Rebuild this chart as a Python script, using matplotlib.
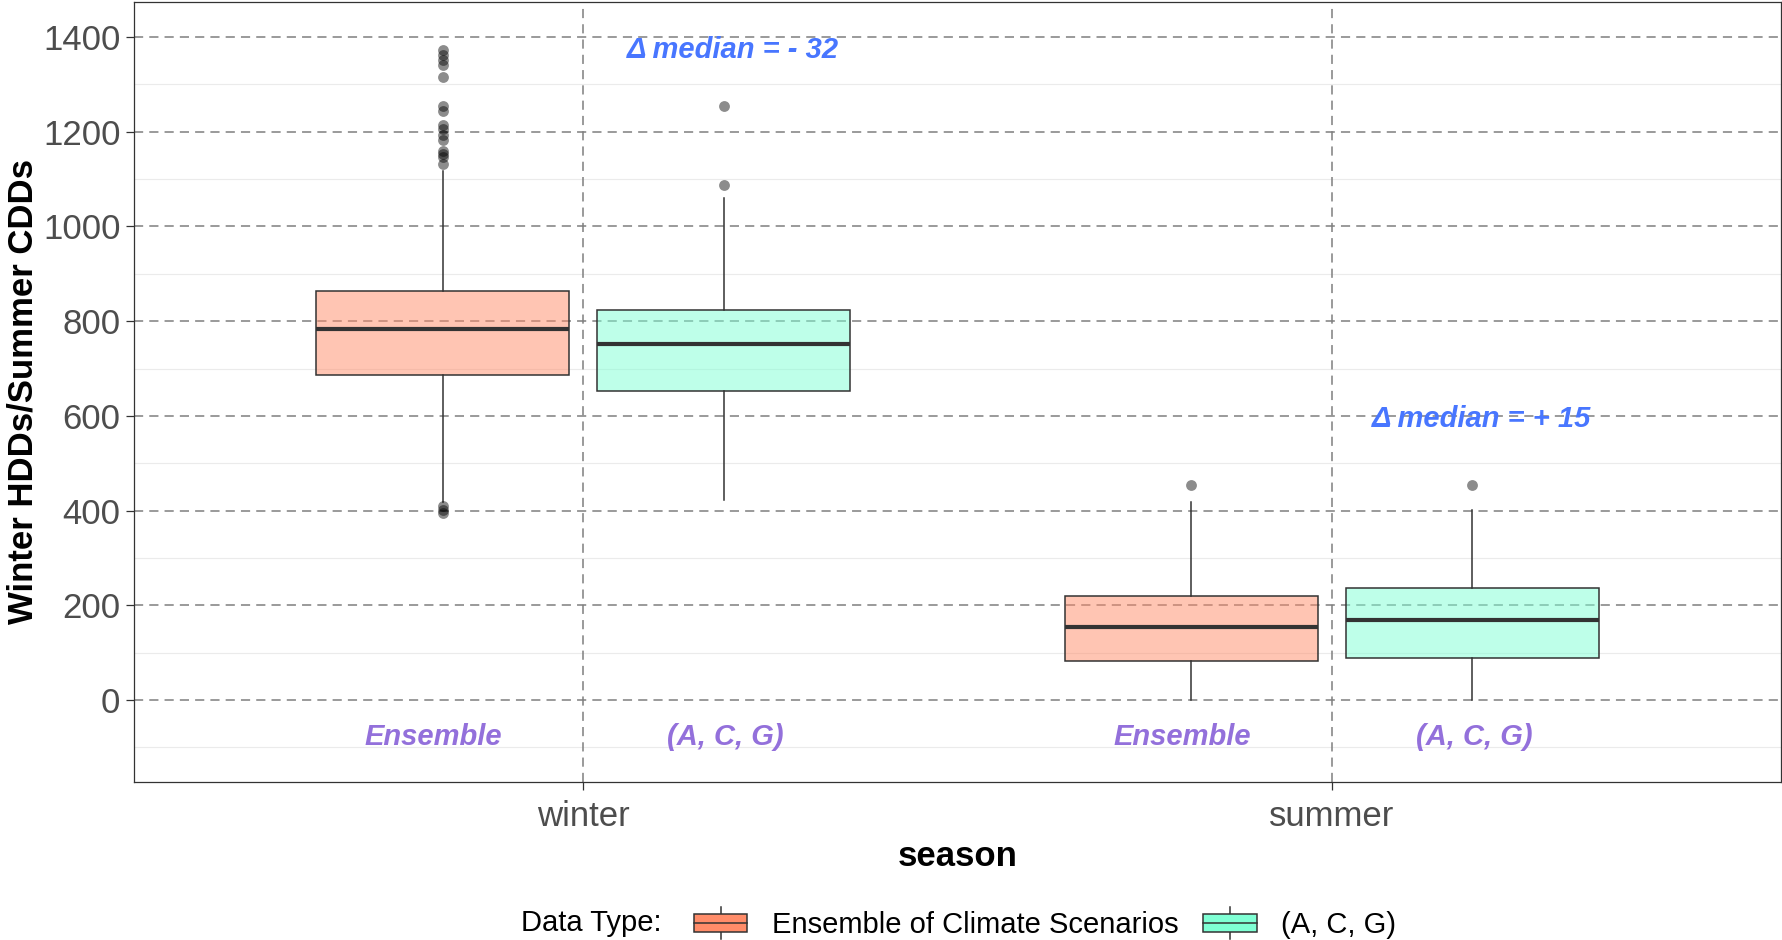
import matplotlib
matplotlib.use("Agg")
import matplotlib.pyplot as plt
from matplotlib.colors import to_rgba
from matplotlib.patches import Rectangle
from matplotlib.lines import Line2D
from matplotlib.legend_handler import HandlerBase

plt.rcParams['font.family'] = ['Liberation Sans', 'DejaVu Sans']

# ---- data -------------------------------------------------------------
seasons = ["winter", "summer"]
data_types = ["Ensemble of Climate Scenarios", "(A, C, G)"]
short_labels = ["Ensemble", "(A, C, G)"]
fill_colors = ["#FF8C69", "#7FFFD4"]

# box-plot summaries, one value per season (winter, summer)
ens_whislo = [419, 0]
ens_q1 = [687, 83]
ens_med = [784, 154]
ens_q3 = [864, 219]
ens_whishi = [1117, 418]
ens_fliers = [
    [1373, 1363, 1352, 1341, 1315, 1255, 1244, 1215, 1205, 1194, 1183,
     1159, 1152, 1146, 1131, 410, 402, 394],
    [454],
]

acg_whislo = [423, 0]
acg_q1 = [652, 89]
acg_med = [752, 169]
acg_q3 = [823, 236]
acg_whishi = [1061, 401]
acg_fliers = [[1254, 1088], [454]]

# vertical placement of the "delta median" notes, per season
delta_y = [1372, 594]

yticks = [0, 200, 400, 600, 800, 1000, 1200, 1400]
yminor = [-100, 100, 300, 500, 700, 900, 1100, 1300]

# ---- figure -------------------------------------------------------------
W, H = 1783, 940
fig = plt.figure(figsize=(W / 100, H / 100), dpi=100)
ax = fig.add_axes([134 / W, 1 - 782 / H, (1781 - 134) / W, (782 - 2) / H])

edge = "#333333"
grid_dash = (0, (6, 4))
dodge = 0.1875
box_w = 0.3375

# grid
for y in yminor:
    ax.axhline(y, color="#EBEBEB", lw=0.8, zorder=0)
for y in yticks:
    ax.axhline(y, color="#7F7F7F", lw=1.1, ls=grid_dash, zorder=0.5)
for i in range(len(seasons)):
    ax.axvline(i + 1, color="#7F7F7F", lw=1.1, ls=grid_dash, zorder=0.5)


def summaries(whislo, q1, med, q3, whishi, fliers):
    return [dict(whislo=whislo[i], q1=q1[i], med=med[i], q3=q3[i],
                 whishi=whishi[i], fliers=fliers[i])
            for i in range(len(seasons))]


groups = [
    summaries(ens_whislo, ens_q1, ens_med, ens_q3, ens_whishi, ens_fliers),
    summaries(acg_whislo, acg_q1, acg_med, acg_q3, acg_whishi, acg_fliers),
]
offsets = [-dodge, dodge]

for stats, off, col in zip(groups, offsets, fill_colors):
    pos = [i + 1 + off for i in range(len(seasons))]
    bp = ax.bxp(stats, positions=pos, widths=box_w, patch_artist=True,
                showcaps=False, manage_ticks=False,
                boxprops=dict(facecolor=to_rgba(col, 0.5), edgecolor=edge,
                              lw=1.1),
                whiskerprops=dict(color=edge, lw=1.1),
                medianprops=dict(color=edge, lw=3.0, solid_capstyle="butt"),
                flierprops=dict(marker="o", markerfacecolor=(0, 0, 0, 0.45),
                                markeredgecolor=(0, 0, 0, 0.0), markersize=7.8))
    for b in bp["boxes"]:
        b.set_zorder(2)
    for m in bp["medians"]:
        m.set_zorder(3)

# group labels under each box, and the median difference per season
label_offsets = [-0.2, 0.19]
for i in range(len(seasons)):
    for off, lab in zip(label_offsets, short_labels):
        ax.text(i + 1 + off, -78, lab, color="#9370DB", fontsize=21,
                fontweight="bold", fontstyle="italic", ha="center",
                va="center", zorder=4)
    d = acg_med[i] - ens_med[i]
    sign = "+" if d > 0 else "-"
    ax.text(i + 1.2, delta_y[i], f"\u0394 median = {sign} {abs(d)}",
            color="#4876FF", fontsize=21, fontweight="bold",
            fontstyle="italic", ha="center", va="center", zorder=4)

ax.set_xlim(0.4, 2.6)
ax.set_ylim(-173, 1474)
ax.set_xticks([1, 2])
ax.set_xticklabels(seasons)
ax.set_yticks(yticks)
ax.tick_params(axis="both", length=5.8, width=0.9, color=edge,
               labelsize=25, labelcolor="#4D4D4D", pad=4)
ax.tick_params(axis="x", pad=7)
for s in ax.spines.values():
    s.set_color(edge)
    s.set_linewidth(0.9)

fig.text(957.5 / W, 1 - 856.5 / H, "season", fontsize=25, fontweight="bold",
         ha="center", va="center")
fig.text(23 / W, 1 - 392 / H, "Winter HDDs/Summer CDDs", fontsize=25,
         fontweight="bold", rotation=90, ha="center", va="center")


# ---- legend -------------------------------------------------------------
class BoxKey(HandlerBase):
    def create_artists(self, legend, orig_handle, xdescent, ydescent,
                       width, height, fontsize, trans):
        x0, y0 = -xdescent, -ydescent
        cx = x0 + width / 2
        bh = height * 0.55
        by = y0 + (height - bh) / 2
        rect = Rectangle((x0, by), width, bh,
                         facecolor=orig_handle.get_facecolor(),
                         edgecolor=edge, lw=1.1, transform=trans)
        med = Line2D([x0, x0 + width], [y0 + height / 2] * 2, color=edge,
                     lw=1.1, transform=trans)
        w1 = Line2D([cx, cx], [y0, by], color=edge, lw=1.1, transform=trans)
        w2 = Line2D([cx, cx], [by + bh, y0 + height], color=edge, lw=1.1,
                    transform=trans)
        return [w1, w2, rect, med]


handles = [Rectangle((0, 0), 1, 1, facecolor=c) for c in fill_colors]
fig.text(521 / W, 1 - 923 / H, "Data Type:", fontsize=21, ha="left",
         va="center")
fig.legend(handles, data_types, handler_map={Rectangle: BoxKey()},
           loc="center left", bbox_to_anchor=(694 / W, 1 - 923 / H),
           ncol=2, frameon=False, fontsize=21, handlelength=1.83,
           handleheight=1.3, handletextpad=0.83, columnspacing=0.86,
           borderpad=0, borderaxespad=0)

fig.savefig("out.png", dpi=100, facecolor="white")
